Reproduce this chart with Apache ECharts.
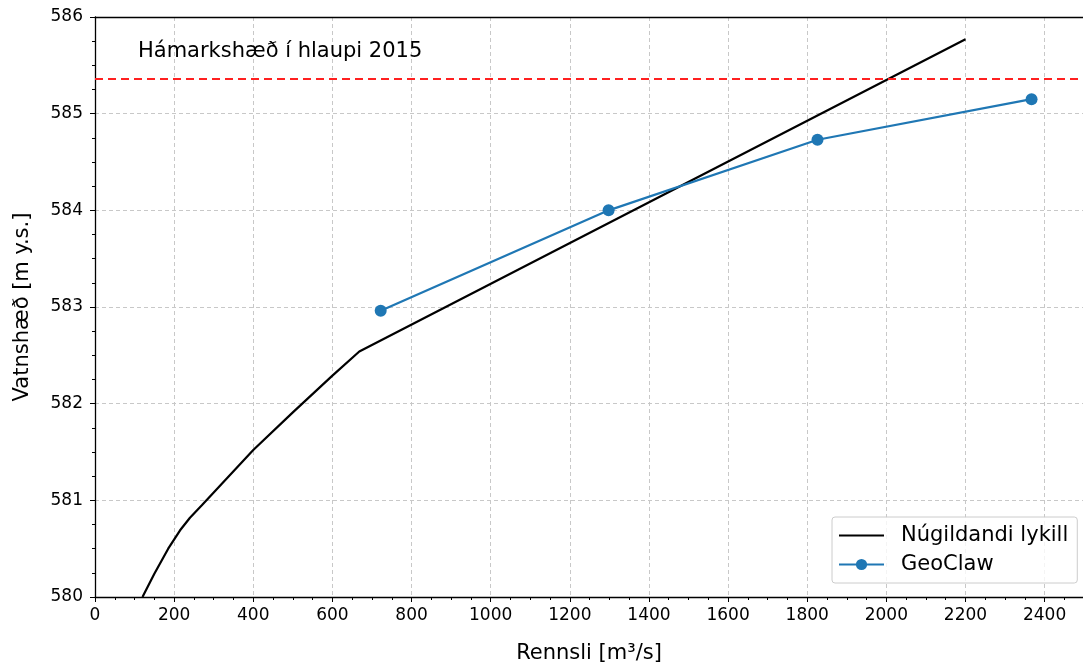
<!DOCTYPE html>
<html>
<head>
<meta charset="utf-8">
<script src="https://cdn.jsdelivr.net/npm/echarts@6/dist/echarts.min.js"></script>
<style>html,body{margin:0;padding:0;background:#fff}#c{width:1083px;height:669px}</style>
</head>
<body>
<div id="c"></div>
<script>
const lykillX = [120, 150, 185, 215, 240, 270, 320, 400, 500, 600, 668, 2200];
const lykillY = [580.0, 580.24, 580.50, 580.69, 580.82, 580.95, 581.17, 581.52, 581.91, 582.29, 582.54, 585.77];
const geoX = [722, 1298, 1826, 2367];
const geoY = [582.96, 584.0, 584.73, 585.15];
const maxLevel = 585.36;
const titleText = 'Hámarkshæð í hlaupi 2015';
const names = ['Núgildandi lykill', 'GeoClaw'];

const font = 'DejaVu Sans';
const xMax = 2497;
const chart = echarts.init(document.getElementById('c'), null, {renderer: 'canvas'});
const grid = {left: 95, top: 17, right: -5, bottom: 71};
const splitStyle = {show: true, showMaxLine: false, lineStyle: {color: '#c8c8c8', type: [4, 3], width: 1}};
chart.setOption({
  animation: false,
  textStyle: {fontFamily: font},
  title: {text: titleText, left: 133, top: 36, textStyle: {fontFamily: font, fontSize: 21, fontWeight: 'normal', color: '#000'}},
  grid: grid,
  legend: {
    orient: 'vertical', left: 832, top: 517,
    padding: [8, 9, 8, 6], itemGap: 8, itemWidth: 45, itemHeight: 14,
    borderColor: '#cccccc', borderWidth: 1, borderRadius: 3, backgroundColor: 'rgba(255,255,255,0.8)',
    textStyle: {fontFamily: font, fontSize: 21, color: '#000', padding: [0, 0, 0, 12]},
    data: [{name: names[0], itemStyle: {opacity: 0}}, {name: names[1]}]
  },
  xAxis: [{
    type: 'value', min: 0, max: xMax, interval: 200,
    axisLine: {show: true, lineStyle: {color: '#000', width: 1.3}},
    axisTick: {show: true, length: 5, lineStyle: {color: '#000'}},
    minorTick: {show: true, splitNumber: 4, length: 3, lineStyle: {color: '#000'}},
    axisLabel: {fontFamily: font, fontSize: 17, color: '#000', margin: 10, showMaxLabel: false, formatter: v => String(v)},
    splitLine: splitStyle,
    name: 'Rennsli [m³/s]', nameLocation: 'middle', nameGap: 46,
    nameTextStyle: {fontFamily: font, fontSize: 21, color: '#000'}
  }, {
    type: 'value', position: 'top', min: 0, max: xMax, interval: 200,
    axisLine: {show: true, onZero: false, lineStyle: {color: '#000', width: 1.3}},
    axisTick: {show: false}, axisLabel: {show: false}, splitLine: {show: false}
  }],
  yAxis: {
    type: 'value', min: 580, max: 586, interval: 1,
    axisLine: {show: true, lineStyle: {color: '#000', width: 1.3}},
    axisTick: {show: true, length: 5, lineStyle: {color: '#000'}},
    minorTick: {show: true, splitNumber: 4, length: 3, lineStyle: {color: '#000'}},
    axisLabel: {fontFamily: font, fontSize: 17, color: '#000', margin: 12, formatter: v => String(v)},
    splitLine: {show: true, lineStyle: {color: '#c8c8c8', type: [4, 3], width: 1}},
    name: 'Vatnshæð [m y.s.]', nameLocation: 'middle', nameGap: 62,
    nameTextStyle: {fontFamily: font, fontSize: 21, color: '#000'}
  },
  series: [
    {
      name: names[0], type: 'line', symbol: 'none', showSymbol: false,
      data: lykillX.map((x, i) => [x, lykillY[i]]),
      lineStyle: {color: '#000', width: 2.2}, itemStyle: {color: '#000'},
      markLine: {
        silent: true, symbol: 'none', label: {show: false},
        lineStyle: {color: '#ff2020', type: [8, 5], width: 2},
        data: [{yAxis: maxLevel}]
      },
      z: 3
    },
    {
      name: names[1], type: 'line', symbol: 'circle', symbolSize: 12,
      data: geoX.map((x, i) => [x, geoY[i]]),
      lineStyle: {color: '#1f77b4', width: 2.2}, itemStyle: {color: '#1f77b4'},
      z: 4
    }
  ]
});
</script>
</body>
</html>
